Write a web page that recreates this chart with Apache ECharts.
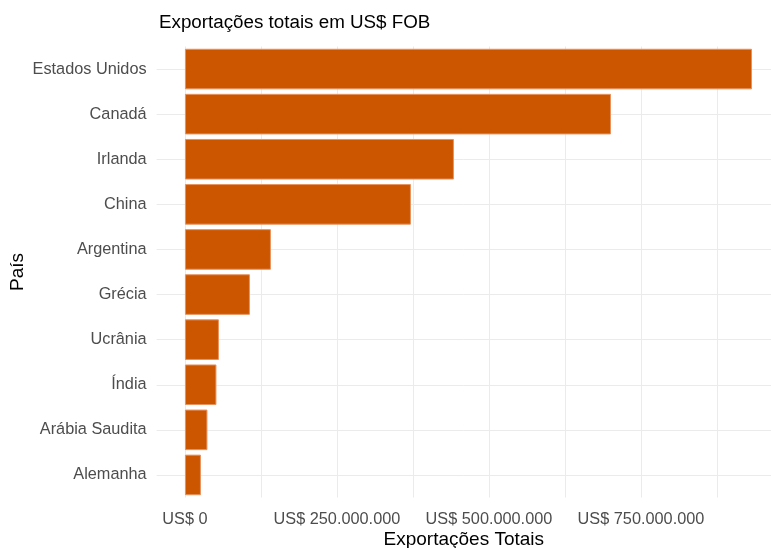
<!DOCTYPE html>
<html><head><meta charset="utf-8">
<script src="https://cdn.jsdelivr.net/npm/echarts@6/dist/echarts.min.js"></script>
<style>html,body{margin:0;padding:0;background:#fff}#c{width:771px;height:548px}</style>
</head><body><div id="c"></div>
<script>
const categories = ['Estados Unidos','Canadá','Irlanda','China','Argentina','Grécia','Ucrânia','Índia','Arábia Saudita','Alemanha'];
const values = [932600000, 700700000, 442400000, 371700000, 141400000, 106900000, 55900000, 51800000, 37000000, 26300000];
const gridValues = [0,125000000,250000000,375000000,500000000,625000000,750000000,875000000];
const labelValues = [0,250000000,500000000,750000000];

function fmt(v){ return 'US$ ' + Math.round(v).toString().replace(/\B(?=(\d{3})+(?!\d))/g,'.'); }
const font = 'Liberation Sans, Arial, sans-serif';
const chart = echarts.init(document.getElementById('c'));
chart.setOption({
  animation:false,
  title:{text:'Exportações totais em US$ FOB', left:154, top:8, textStyle:{fontFamily:font,fontSize:18.8,fontWeight:'normal',color:'#000'}},
  grid:{left:156.6, right:0, top:46.5, bottom:50.5, outerBoundsMode:'none', containLabel:false},
  xAxis:{type:'value', min:-46600000, max:963900000,
    name:'Exportações Totais', nameLocation:'middle', nameGap:33, nameMoveOverlap:false,
    nameTextStyle:{fontFamily:font,fontSize:19,color:'#000'},
    axisLine:{show:false},
    axisTick:{show:false, customValues:gridValues},
    axisLabel:{customValues:labelValues, formatter:fmt, fontFamily:font, fontSize:16.3, color:'#4d4d4d', margin:14},
    splitLine:{show:true, lineStyle:{color:'#ebebeb', width:1}}
  },
  yAxis:{type:'category', data:categories, inverse:true,
    name:'País', nameLocation:'middle', nameGap:129, nameRotate:90, nameMoveOverlap:false,
    nameTextStyle:{fontFamily:font,fontSize:19,color:'#000'},
    axisLine:{show:false},
    axisTick:{show:false, alignWithLabel:true},
    axisLabel:{fontFamily:font,fontSize:16.3,color:'#4d4d4d', margin:10},
    splitLine:{show:true, alignWithLabel:true, lineStyle:{color:'#ebebeb', width:1}}
  },
  series:[{type:'bar', data:values, barCategoryGap:'10%',
    itemStyle:{color:'#cc5500', borderColor:'#e8935e', borderWidth:1}}]
});
</script></body></html>
